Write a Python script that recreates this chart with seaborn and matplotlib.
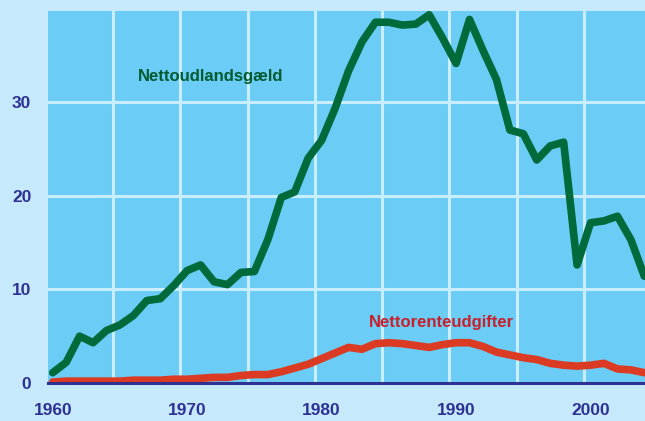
import numpy as np
import pandas as pd
import seaborn as sns
import matplotlib.pyplot as plt
from matplotlib import font_manager

# Data
years = list(range(1960, 2005))
udlandsgaeld = [1.1, 2.2, 5.0, 4.3, 5.6, 6.2, 7.2, 8.8, 9.0, 10.4,
                12.0, 12.6, 10.8, 10.5, 11.8, 11.9, 15.3, 19.8, 20.4, 24.0,
                25.9, 29.3, 33.3, 36.4, 38.5, 38.5, 38.2, 38.3, 39.3, 36.8,
                34.1, 38.8, 35.5, 32.4, 27.0, 26.6, 23.8, 25.3, 25.7, 12.6,
                17.1, 17.3, 17.8, 15.3, 11.4]
renteudgifter = [0.1, 0.2, 0.2, 0.2, 0.2, 0.2, 0.3, 0.3, 0.3, 0.4,
                 0.4, 0.5, 0.6, 0.6, 0.8, 0.9, 0.9, 1.2, 1.6, 2.0,
                 2.6, 3.2, 3.8, 3.6, 4.2, 4.3, 4.2, 4.0, 3.8, 4.1,
                 4.3, 4.3, 3.9, 3.3, 3.0, 2.7, 2.5, 2.1, 1.9, 1.8,
                 1.9, 2.1, 1.5, 1.4, 1.1]

df = pd.DataFrame({
    'År': years * 2,
    'Værdi': udlandsgaeld + renteudgifter,
    'Serie': ['Nettoudlandsgæld'] * len(years) + ['Nettorenteudgifter'] * len(years),
})

green = '#006A3A'
red = '#DB3B22'
navy = '#2E3192'

sns.set_style('white')
names = {f.name for f in font_manager.fontManager.ttflist}
fam = 'Liberation Sans Narrow' if 'Liberation Sans Narrow' in names else 'Liberation Sans'
plt.rcParams['font.family'] = [fam, 'DejaVu Sans']

fig = plt.figure(figsize=(6.45, 4.21), dpi=100, facecolor='#C6E9FB')
ax = fig.add_axes([48 / 645, 1 - 383 / 421, 597 / 645, 372 / 421])
ax.set_facecolor('#6BCDF5')

sns.lineplot(data=df, x='År', y='Værdi', hue='Serie',
             palette={'Nettoudlandsgæld': green, 'Nettorenteudgifter': red},
             linewidth=5.5, legend=False, ax=ax, zorder=3)

ax.set_xlim(1959.65, 2004.05)
ax.set_ylim(0, 39.7)
ax.set_xticks([1960, 1970, 1980, 1990, 2000])
ax.set_xticks(np.arange(1964.5, 2004, 5), minor=True)
ax.set_yticks([0, 10, 20, 30])
ax.grid(False)
ax.grid(True, which='minor', axis='x', color='#C9EEFF', linewidth=2.2, zorder=1)
ax.grid(True, which='major', axis='y', color='#C9EEFF', linewidth=2.2, zorder=1)
ax.set_axisbelow(True)
ax.tick_params(which='both', length=0)
ax.tick_params(axis='x', pad=14.5)
ax.tick_params(axis='y', pad=12)
for lbl in ax.get_xticklabels() + ax.get_yticklabels():
    lbl.set_color(navy)
    lbl.set_fontsize(12.5)
    lbl.set_fontweight('bold')
ax.set_xlabel('')
ax.set_ylabel('')

for side in ['top', 'right', 'left']:
    ax.spines[side].set_visible(False)
ax.spines['bottom'].set_color(navy)
ax.spines['bottom'].set_linewidth(2.2)
ax.spines['bottom'].set_zorder(4)

ax.text(1966.3, 32.7, 'Nettoudlandsgæld', color='#005A30', fontsize=12,
        fontweight='bold', va='center')
ax.text(1983.5, 6.5, 'Nettorenteudgifter', color='#C8202A', fontsize=12,
        fontweight='bold', va='center')

fig.savefig('out.png', dpi=100, facecolor=fig.get_facecolor())
